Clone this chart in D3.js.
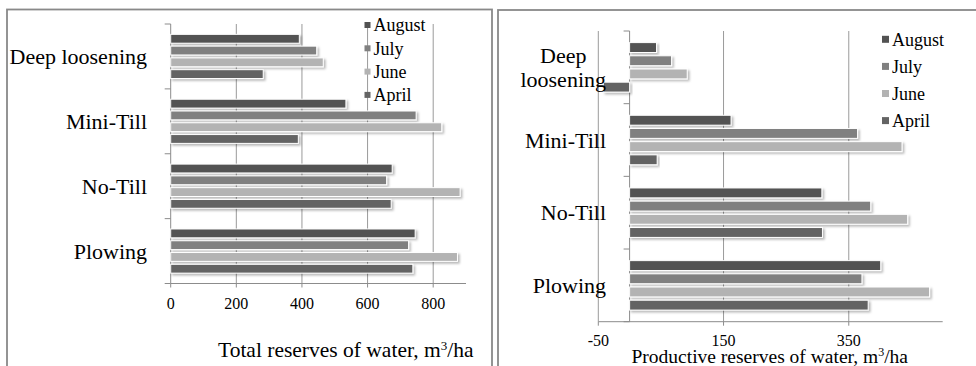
<!DOCTYPE html>
<html>
<head>
  <meta charset="utf-8">
  <title>Water reserves by tillage</title>
  <style>
    body { margin: 0; background: #fff; }
    svg { display: block; }
    svg text { font-family: "Liberation Serif", "DejaVu Serif", "Times New Roman", serif; fill: #000; }
    .frame { fill: none; stroke: #898989; stroke-width: 1.8px; }
    .grid { stroke: #9a9a9a; stroke-width: 1px; }
    .axis { stroke: #8c8c8c; stroke-width: 1px; }
    .bar { stroke: #fff; stroke-width: 1px; }
  </style>
</head>
<body>
<svg width="976" height="366"></svg>
<script src="https://d3js.org/d3.v7.min.js"></script>
<script>
// categories, top to bottom
const categories = ["Deep loosening", "Mini-Till", "No-Till", "Plowing"];
const months = ["August", "July", "June", "April"];
const monthColors = ["#525252", "#808080", "#b3b3b3", "#646464"];

// total reserves of water, m3/ha (left chart)
const totalAugust = [392, 534, 675, 745];
const totalJuly = [445, 748, 658, 725];
const totalJune = [465, 826, 882, 874];
const totalApril = [282, 389, 672, 738];
const totalTicks = [0, 200, 400, 600, 800];

// productive reserves of water, m3/ha (right chart)
const prodAugust = [43, 162, 307, 401];
const prodJuly = [67, 364, 385, 371];
const prodJune = [92, 435, 444, 479];
const prodApril = [-42, 44, 308, 381];
const prodTicks = [-50, 150, 350];

const serif = '"Liberation Serif", "DejaVu Serif", "Times New Roman", serif';
const svg = d3.select("svg");

// drop shadow like the excel bars
const defs = svg.append("defs");
defs.append("filter")
  .attr("id", "shadow")
  .attr("x", "-5%").attr("y", "-60%")
  .attr("width", "115%").attr("height", "260%")
  .append("feDropShadow")
  .attr("dx", 1.8).attr("dy", 1.8)
  .attr("stdDeviation", 0.9)
  .attr("flood-color", "#000")
  .attr("flood-opacity", 0.28);

function drawPanel(o) {
  const g = svg.append("g").attr("font-family", serif);

  g.append("rect").attr("class", "frame")
    .attr("x", o.frame[0]).attr("y", o.frame[1])
    .attr("width", o.frame[2]).attr("height", o.frame[3]);

  const x = d3.scaleLinear().domain(o.domain).range([o.left, o.right]);
  const y = d3.scaleBand().domain(categories).range([o.top, o.bottom]);
  const yInner = d3.scaleBand().domain(months)
    .range([0, y.bandwidth()])
    .paddingInner(0.25).paddingOuter(0.88);

  // gridlines
  g.selectAll(".grid").data(o.ticks.filter(t => t !== 0))
    .enter().append("line").attr("class", "grid")
    .attr("x1", d => x(d)).attr("x2", d => x(d))
    .attr("y1", o.top).attr("y2", o.bottom);

  // value axis (bottom)
  g.append("line").attr("class", "axis")
    .attr("x1", o.left).attr("x2", o.right)
    .attr("y1", o.bottom).attr("y2", o.bottom);
  g.selectAll(".vtick").data(o.ticks)
    .enter().append("line").attr("class", "axis")
    .attr("x1", d => x(d)).attr("x2", d => x(d))
    .attr("y1", o.bottom).attr("y2", o.bottom + 4);
  g.selectAll(".vlabel").data(o.ticks)
    .enter().append("text")
    .attr("x", d => x(d)).attr("y", o.tickLabelY)
    .attr("dy", "0.35em")
    .attr("text-anchor", "middle")
    .style("font-size", "16px")
    .text(d => d);

  // category axis at zero
  const x0 = x(0);
  g.append("line").attr("class", "axis")
    .attr("x1", x0).attr("x2", x0)
    .attr("y1", o.top).attr("y2", o.bottom);
  const bounds = categories.map(c => y(c)).concat([o.bottom]);
  g.selectAll(".ctick").data(bounds)
    .enter().append("line").attr("class", "axis")
    .attr("x1", x0 - 6).attr("x2", x0)
    .attr("y1", d => d).attr("y2", d => d);

  // bars
  const rows = [];
  categories.forEach((c, i) => {
    months.forEach((m, j) => {
      rows.push({ cat: c, month: m, value: o.series[j][i], color: monthColors[j] });
    });
  });
  g.selectAll(".bar").data(rows)
    .enter().append("rect").attr("class", "bar")
    .attr("x", d => x(Math.min(0, d.value)))
    .attr("width", d => Math.abs(x(d.value) - x(0)))
    .attr("y", d => y(d.cat) + yInner(d.month))
    .attr("height", yInner.bandwidth())
    .attr("fill", d => d.color)
    .attr("filter", "url(#shadow)");

  // category labels
  categories.forEach(c => {
    const cy = y(c) + y.bandwidth() / 2;
    const lines = (o.wrap && c.indexOf(" ") > 0) ? c.split(" ") : [c];
    const t = g.append("text")
      .attr("text-anchor", "middle")
      .style("font-size", "22px");
    lines.forEach((ln, k) => {
      t.append("tspan")
        .attr("y", cy + (k - (lines.length - 1) / 2) * 24)
        .attr("dy", "0.35em")
        .text(ln);
    });
    const w = d3.max(t.selectAll("tspan").nodes(), n => n.getComputedTextLength());
    t.selectAll("tspan").attr("x", o.labelRight - w / 2);
  });

  // legend
  const lg = g.append("g");
  months.forEach((m, j) => {
    const ly = o.legend.y + j * o.legend.step;
    lg.append("rect")
      .attr("x", o.legend.x).attr("y", ly - o.legend.box / 2)
      .attr("width", o.legend.box).attr("height", o.legend.box)
      .attr("fill", monthColors[j]);
    lg.append("text")
      .attr("x", o.legend.x + o.legend.box + 3).attr("y", ly)
      .attr("dy", "0.35em")
      .style("font-size", "18px")
      .text(m);
  });

  // axis title
  const tt = g.append("text")
    .attr("x", o.title.x).attr("y", o.title.y)
    .style("font-size", o.title.size + "px");
  tt.append("tspan").text(o.title.text);
  tt.append("tspan").attr("baseline-shift", "super")
    .style("font-size", Math.round(o.title.size * 0.6) + "px").text("3");
  tt.append("tspan").text("/ha");
}

drawPanel({
  frame: [7, 9.5, 485, 380],
  domain: [0, 900], ticks: totalTicks,
  left: 170.7, right: 466, top: 24, bottom: 283.5,
  series: [totalAugust, totalJuly, totalJune, totalApril],
  tickLabelY: 303.5,
  labelRight: 147, wrap: false,
  legend: { x: 364.5, y: 25, step: 23.3, box: 6 },
  title: { x: 218, y: 357, size: 21.5, text: "Total reserves  of water, m" }
});

drawPanel({
  frame: [498, 10, 500, 380],
  domain: [-50, 500], ticks: prodTicks,
  left: 598.3, right: 942.7, top: 31, bottom: 321.7,
  series: [prodAugust, prodJuly, prodJune, prodApril],
  tickLabelY: 340.5,
  labelRight: 606, wrap: true,
  legend: { x: 882, y: 39.3, step: 27.1, box: 7 },
  title: { x: 631.5, y: 363, size: 19.5, text: "Productive reserves of water, m" }
});
</script>
</body>
</html>
